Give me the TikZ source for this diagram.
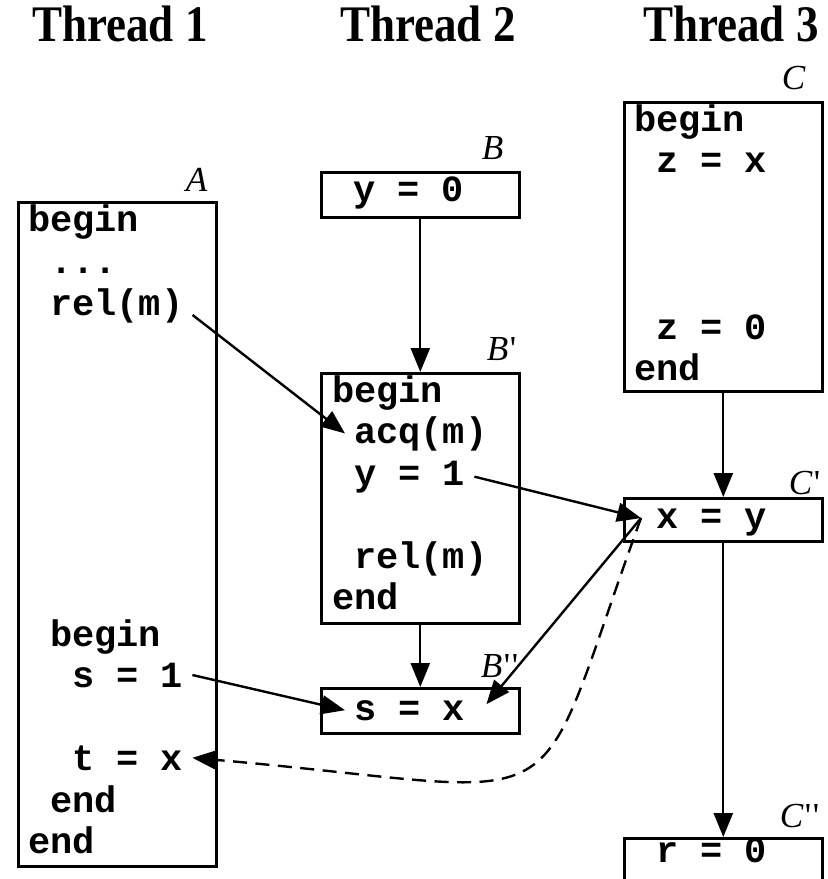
\documentclass[tikz,border=0pt]{standalone}
\usepackage{fontspec}
\setmainfont{Liberation Serif}
\newfontfamily\codefont{Liberation Mono}
\newfontfamily\tagfont{Liberation Serif}[Ligatures=TeXOff]
\usetikzlibrary{arrows.meta}

% straight prime marks after the block letters
\newcommand{\pr}{{\upshape\kern1.2pt'}}

\tikzset{
  thread/.style={draw, line width=1.8pt, minimum width=4.95cm, inner sep=0pt, anchor=north west},
  code/.style={anchor=base west, inner xsep=5.7pt, inner ysep=0pt,
    font=\codefont\bfseries\fontsize{26.3}{30}\selectfont},
  tag/.style={anchor=base west, inner sep=0pt, font=\tagfont\itshape\fontsize{25}{28}\selectfont},
  heading/.style={anchor=base, inner sep=0pt, yscale=1.14,
    font=\bfseries\fontsize{32}{36}\selectfont},
}

\begin{document}
\begin{tikzpicture}[x=0.025cm, y=-0.025cm, line width=1.7pt,
    >={Triangle[length=17pt,width=13.5pt]}]
    \useasboundingbox (0,0) rectangle (827,879);

    \node[heading] (t_1) at (120,42) {Thread 1};
    \node[heading] (t_2) at (428,42) {Thread 2};
    \node[heading] (t_3) at (731,42) {Thread 3};

    % one box per block
    \node[thread, minimum height=16.6cm]  (A)   at (17,201) {};
    \node[thread, minimum height=1.125cm] (B)   at (320,171) {};
    \node[thread, minimum height=6.25cm]  (B_1) at (320,372) {};
    \node[thread, minimum height=1.125cm] (B_2) at (320,687) {};
    \node[thread, minimum height=7.225cm] (C)   at (623,101) {};
    \node[thread, minimum height=1.075cm] (C_1) at (623,497) {};
    \node[thread, minimum height=1.125cm] (C_2) at (623,837) {};

    \node[tag] (A_tag)   at ([shift={(-33,-9)}]A.north east)   {A};
    \node[tag] (B_tag)   at ([shift={(-40,-11)}]B.north east)  {B};
    \node[tag] (B_1_tag) at ([shift={(-35,-12)}]B_1.north east) {B\pr};
    \node[tag] (B_2_tag) at ([shift={(-41,-10)}]B_2.north east) {B\pr\pr};
    \node[tag] (C_tag)   at ([shift={(-43,-11)}]C.north east)  {C};
    \node[tag] (C_1_tag) at ([shift={(-36,-3)}]C_1.north east)  {C\pr};
    \node[tag] (C_2_tag) at ([shift={(-45,-10)}]C_2.north east) {C\pr\pr};

    % thread 1
    \node[code] (A_b1)  at (19,232)  {begin};
    \node[code] (A_dot) at (41,273)  {...};
    \node[code] (A_rel) at (41,315)  {rel(m)};
    \node[code] (A_b2)  at (41,646)  {begin};
    \node[code] (A_s)   at (63,687)  {s = 1};
    \node[code] (A_t)   at (63,770)  {t = x};
    \node[code] (A_e2)  at (41,812)  {end};
    \node[code] (A_e1)  at (19,853)  {end};

    % thread 2
    \node[code] (B_y)     at (344,202) {y = 0};
    \node[code] (B_1_b)   at (323,402) {begin};
    \node[code] (B_1_acq) at (345,443) {acq(m)};
    \node[code] (B_1_y)   at (345,485) {y = 1};
    \node[code] (B_1_rel) at (345,568) {rel(m)};
    \node[code] (B_1_e)   at (323,609) {end};
    \node[code] (B_2_s)   at (345,720) {s = x};

    % thread 3
    \node[code] (C_b)   at (625,132) {begin};
    \node[code] (C_z1)  at (647,173) {z = x};
    \node[code] (C_z2)  at (647,339) {z = 0};
    \node[code] (C_e)   at (625,380) {end};
    \node[code] (C_1_x) at (647,528) {x = y};
    \node[code] (C_2_r) at (647,862) {r = 0};

    \coordinate (C_1_in)  at ([shift={(-6,-4)}]C_1_x.west);
    \coordinate (B_2_out) at ([shift={(12,-6)}]B_2_s.east);

    \path[->]
    (B) edge (B_1)
    (B_1) edge (B_2)
    (C) edge (C_1)
    (C_1) edge (C_2)
    (A_rel.base east) edge (B_1_acq.west)
    (B_1_y.east) edge (C_1_in)
    (A_s.east) edge (B_2_s.west)
    (C_1_in) edge (B_2_out)
    (C_1_in) edge [dashed, dash pattern=on 10pt off 6pt, out=-110, in=-5,
        out looseness=1.7, in looseness=2] (A_t.east)
    ;
\end{tikzpicture}
\end{document}
